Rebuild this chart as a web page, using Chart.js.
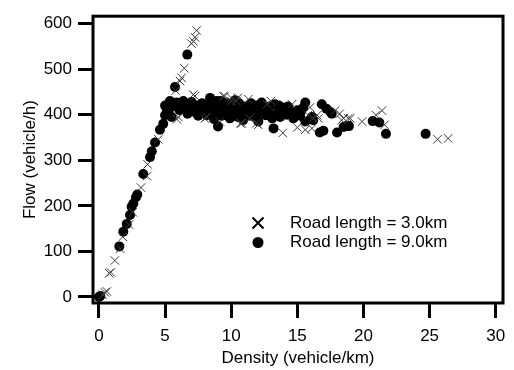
<!DOCTYPE html>
<html>
<head>
<meta charset="utf-8">
<script src="https://cdn.jsdelivr.net/npm/chart.js@4/dist/chart.umd.min.js"></script>
<style>
html,body{margin:0;padding:0;background:#fff;}
#wrap{width:514px;height:370px;}
</style>
</head>
<body>
<div id="wrap"><canvas id="c" width="514" height="370"></canvas></div>
<script>
const xTitle = "Density (vehicle/km)";
const yTitle = "Flow (vehicle/h)";
const seriesLabels = ["Road length = 3.0km", "Road length = 9.0km"];
const xTicks = [0, 5, 10, 15, 20, 25, 30];
const yTicks = [0, 100, 200, 300, 400, 500, 600];

// Road length = 3.0km (crosses)
const crossDensity = [0.3,0.45,0.6,0.78,0.9,1.2,1.6,1.8,2.27,2.55,3.18,3.63,3.68,4.49,5.8,6.13,6.25,6.45,7.0,7.14,7.26,7.39,
  5.9,6.0,7.14,7.26,8.0,8.15,9.15,9.4,9.5,10.0,10.0,10.4,10.5,10.7,10.8,11.3,11.4,11.9,12.05,12.7,13.0,13.9,14.6,15.0,15.6,15.8,15.96,16.1,16.2,16.5,16.6,17.85,18.2,18.35,18.5,18.85,19.0,19.9,20.95,21.4,21.6,25.6,26.4];
const crossFlow = [5,10,12,52,54,80,106,132,159,186,240,265,291,346,453,474,481,502,556,561,570,585,
  390,395,444,441,392,395,385,441,441,437,430,430,437,381,381,434,392,381,378,423,430,360,423,372,367,399,416,370,392,399,392,409,402,388,392,392,392,385,399,409,378,346,348];

// Road length = 9.0km (dots)
const dotDensity = [0,0.1,1.54,1.84,2.1,2.35,2.47,2.6,2.8,2.9,3.35,3.86,4.0,4.24,4.61,4.86,5.12,5.25,5.75,6.68,
  5.0,5.37,5.0,5.5,5.6,5.87,6.1,6.38,6.5,6.75,6.9,7.14,7.4,7.64,7.8,8.15,8.2,8.4,8.5,8.65,8.8,8.9,9.0,9.1,9.3,9.4,9.5,9.66,9.9,10.0,10.2,10.4,10.6,10.8,10.9,11.0,11.2,11.4,11.6,11.9,12.05,12.1,12.3,12.5,12.6,12.9,13.2,13.3,13.5,13.7,13.9,14.2,14.45,14.7,15.0,15.3,15.45,15.6,15.6,16.1,16.2,16.7,16.85,16.97,17.2,17.5,17.6,18.0,18.5,18.7,18.9,20.7,21.2,21.7,24.7,
  6.2,6.7,7.0,7.3,7.5,7.9,8.3,8.7,9.2,9.7,10.1,10.3,10.5,11.1,11.5,11.8,12.2,12.8,13.1,13.6,14.0,14.3,14.9,15.2];
const dotFlow = [0,2,111,143,160,180,198,205,219,225,270,307,320,339,367,380,404,409,461,532,
  420,430,399,395,418,427,410,430,418,423,416,409,420,413,425,399,420,437,428,402,415,430,374,410,398,427,418,406,392,420,400,413,425,405,388,418,409,398,415,420,385,405,427,412,399,418,370,423,405,395,416,400,406,392,410,409,416,427,385,395,388,361,423,365,413,406,402,361,373,375,375,386,383,358,358,
  425,402,428,405,398,408,412,390,430,425,410,432,395,402,425,395,415,405,392,420,405,418,398,398];

const toPoints = (xs, ys) => xs.map((x, i) => ({x: x, y: ys[i]}));

const FONT = "'Liberation Sans', Arial, sans-serif";

const boxAndLegend = {
  id: 'boxAndLegend',
  afterDraw(chart) {
    const {ctx, chartArea: a} = chart;
    ctx.save();
    ctx.strokeStyle = '#000';
    ctx.lineWidth = 3;
    ctx.strokeRect(a.left, a.top, a.right - a.left, a.bottom - a.top);
    // legend inside plot
    const lx = 258, ly = [223, 242.5], tx = 290;
    ctx.lineWidth = 2;
    ctx.beginPath();
    ctx.moveTo(lx - 5.5, ly[0] - 5.5); ctx.lineTo(lx + 5.5, ly[0] + 5.5);
    ctx.moveTo(lx + 5.5, ly[0] - 5.5); ctx.lineTo(lx - 5.5, ly[0] + 5.5);
    ctx.stroke();
    ctx.fillStyle = '#000';
    ctx.beginPath();
    ctx.arc(lx, ly[1], 5.5, 0, Math.PI * 2);
    ctx.fill();
    ctx.font = "17px " + FONT;
    ctx.textBaseline = 'middle';
    ctx.textAlign = 'left';
    chart.data.datasets.forEach((d, i) => ctx.fillText(d.label, tx, ly[i]));
    ctx.restore();
  }
};

new Chart(document.getElementById('c'), {
  type: 'scatter',
  data: {
    datasets: [
      {
        label: seriesLabels[0],
        data: toPoints(crossDensity, crossFlow),
        pointStyle: 'crossRot',
        pointRadius: 6,
        borderColor: '#3a3a3a',
        backgroundColor: '#3a3a3a',
        pointBorderWidth: 1
      },
      {
        label: seriesLabels[1],
        data: toPoints(dotDensity, dotFlow),
        pointStyle: 'circle',
        pointRadius: 5,
        borderWidth: 0,
        pointBorderWidth: 0,
        backgroundColor: '#000',
        borderColor: '#000'
      }
    ]
  },
  options: {
    responsive: false,
    animation: false,
    events: [],
    layout: {padding: {left: 0, right: 11, top: 5, bottom: 0}},
    plugins: {legend: {display: false}, tooltip: {enabled: false}},
    scales: {
      x: {
        type: 'linear',
        min: -0.45, max: 30.55,
        afterBuildTicks: s => { s.ticks = xTicks.map(v => ({value: v})); },
        afterFit: s => { s.height = 67; },
        grid: {drawOnChartArea: false, drawTicks: true, tickLength: 15, tickWidth: 3, tickColor: '#000'},
        border: {display: false},
        ticks: {color: '#000', font: {family: FONT, size: 17}, padding: 8, maxRotation: 0},
        title: {display: true, text: xTitle, color: '#000', font: {family: FONT, size: 17}, padding: {top: 0, bottom: 1}}
      },
      y: {
        type: 'linear',
        min: -13.3, max: 616.3,
        afterBuildTicks: s => { s.ticks = yTicks.map(v => ({value: v})); },
        afterFit: s => { s.width = 93; },
        grid: {drawOnChartArea: false, drawTicks: true, tickLength: 15, tickWidth: 3, tickColor: '#000'},
        border: {display: false},
        ticks: {color: '#000', font: {family: FONT, size: 17}, padding: 6},
        title: {display: true, text: yTitle, color: '#000', font: {family: FONT, size: 17}, padding: {top: 20, bottom: 0}}
      }
    }
  },
  plugins: [boxAndLegend]
});
</script>
</body>
</html>
